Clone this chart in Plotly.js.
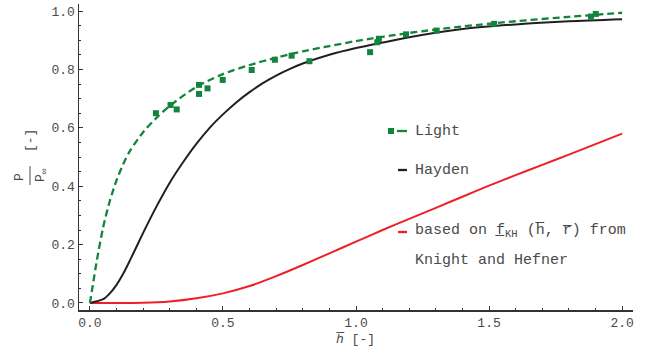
<!DOCTYPE html>
<html>
<head>
<meta charset="utf-8">
<script src="https://cdn.plot.ly/plotly-3.0.1.min.js"></script>
<style>html,body{margin:0;padding:0;background:#fff;}#chart{width:651px;height:356px;}</style>
</head>
<body>
<div id="chart"></div>
<script>
// Light: experimental points
const lightX = [0.248, 0.303, 0.326, 0.410, 0.410, 0.442, 0.499, 0.608, 0.695, 0.758, 0.825, 1.053, 1.080, 1.086, 1.188, 1.303, 1.519, 1.883, 1.901];
const lightY = [0.650, 0.678, 0.663, 0.747, 0.716, 0.735, 0.764, 0.798, 0.833, 0.847, 0.828, 0.859, 0.893, 0.905, 0.920, 0.933, 0.956, 0.981, 0.990];
// Light: fitted curve (dashed)
const lightFitX = [0, 0.0125, 0.025, 0.05, 0.075, 0.1, 0.125, 0.15, 0.2, 0.25, 0.3, 0.4, 0.5, 0.6, 0.7, 0.8, 0.9, 1.0, 1.2, 1.4, 1.6, 1.8, 2.0];
const lightFitY = [0, 0.07, 0.14, 0.26, 0.35, 0.42, 0.475, 0.52, 0.585, 0.634, 0.675, 0.74, 0.784, 0.815, 0.84, 0.862, 0.88, 0.897, 0.925, 0.947, 0.965, 0.98, 0.994];
// Hayden
const haydenX = [0, 0.05, 0.075, 0.1, 0.125, 0.15, 0.2, 0.25, 0.3, 0.35, 0.4, 0.45, 0.5, 0.55, 0.6, 0.65, 0.7, 0.75, 0.8, 0.9, 1.0, 1.1, 1.2, 1.4, 1.6, 1.8, 2.0];
const haydenY = [0, 0.013, 0.033, 0.062, 0.1, 0.145, 0.24, 0.33, 0.412, 0.482, 0.545, 0.6, 0.646, 0.687, 0.722, 0.753, 0.779, 0.801, 0.82, 0.85, 0.873, 0.892, 0.91, 0.938, 0.954, 0.965, 0.972];
// Knight and Hefner
const khX = [0, 0.2, 0.3, 0.4, 0.5, 0.6, 0.7, 0.8, 0.9, 1.0, 1.1, 1.2, 1.3, 1.4, 1.5, 1.6, 1.7, 1.8, 1.9, 2.0];
const khY = [0, 0.0005, 0.005, 0.016, 0.033, 0.058, 0.092, 0.13, 0.17, 0.21, 0.25, 0.288, 0.326, 0.364, 0.402, 0.438, 0.473, 0.508, 0.544, 0.58];
// Tick labels
const xTickVals = [0, 0.5, 1.0, 1.5, 2.0];
const xTickText = ['0.0', '0.5', '1.0', '1.5', '2.0'];
const yTickVals = [0, 0.2, 0.4, 0.6, 0.8, 1.0];
const yTickText = ['0.0', '0.2', '0.4', '0.6', '0.8', '1.0'];

const GREEN = '#12843c';
const BLACK = '#231f20';
const RED = '#ec2027';
const TXT = '#4a4a4a';
const MONO = 'Liberation Mono, DejaVu Sans Mono, monospace';

// pixel -> paper helpers (plot area: x 79..633, y 4..310)
const L = 79, R = 633, T = 4, B = 310;
const px = v => (v - L) / (R - L);
const py = v => (B - v) / (B - T);

const traces = [
  {x: khX, y: khY, mode: 'lines', line: {color: RED, width: 2, shape: 'spline', smoothing: 0.8}, hoverinfo: 'skip'},
  {x: haydenX, y: haydenY, mode: 'lines', line: {color: BLACK, width: 2, shape: 'spline', smoothing: 0.8}, hoverinfo: 'skip'},
  {x: lightFitX, y: lightFitY, mode: 'lines', line: {color: GREEN, width: 2.3, dash: '7px,4px', shape: 'spline', smoothing: 0.8}, hoverinfo: 'skip'},
  {x: lightX, y: lightY, mode: 'markers', marker: {symbol: 'square', size: 6, color: GREEN}, hoverinfo: 'skip'}
];

const ann = (x, y, text, opts) => Object.assign({xref: 'paper', yref: 'paper', x: px(x), y: py(y), text: text, showarrow: false,
  xanchor: 'left', yanchor: 'middle', font: {family: MONO, size: 15, color: TXT}}, opts || {});

const annotations = [
  ann(413, 131, 'Light'),
  ann(413, 170, 'Hayden'),
  ann(413, 231, 'based on f\u0332<sub>KH</sub> (h\u0305, r\u0305) from'),
  ann(413, 260, 'Knight and Hefner'),
  // x title
  ann(355, 339, '<i>h\u0305</i> [-]', {xanchor: 'center', font: {family: MONO, size: 13, color: TXT}}),
  // y title (rotated fraction)
  ann(19, 177, 'P', {xanchor: 'center', textangle: -90, font: {family: MONO, size: 13, color: TXT}}),
  ann(41, 175, 'P<sub>\u221e</sub>', {xanchor: 'center', textangle: -90, font: {family: MONO, size: 13, color: TXT}}),
  ann(30, 141, '[-]', {xanchor: 'center', textangle: -90, font: {family: MONO, size: 13, color: TXT}})
];

const shapes = [
  // legend symbols
  {type: 'rect', xref: 'paper', yref: 'paper', x0: px(388), x1: px(394), y0: py(134), y1: py(128), fillcolor: GREEN, line: {width: 0}},
  {type: 'line', xref: 'paper', yref: 'paper', x0: px(397), x1: px(407), y0: py(131), y1: py(131), line: {color: GREEN, width: 2.3}},
  {type: 'line', xref: 'paper', yref: 'paper', x0: px(398), x1: px(407), y0: py(170), y1: py(170), line: {color: BLACK, width: 2.3}},
  {type: 'line', xref: 'paper', yref: 'paper', x0: px(398), x1: px(407), y0: py(232), y1: py(232), line: {color: RED, width: 2.3}},
  // fraction bar of y title
  {type: 'line', xref: 'paper', yref: 'paper', x0: px(30), x1: px(30), y0: py(185), y1: py(166), line: {color: TXT, width: 1}}
];

const layout = {
  width: 651, height: 356,
  margin: {l: L, r: 651 - R, t: T, b: 356 - B, pad: 0},
  paper_bgcolor: '#fff', plot_bgcolor: '#fff',
  showlegend: false,
  xaxis: {
    range: [-0.041, 2.041], showgrid: false, zeroline: false,
    showline: true, linecolor: '#333', linewidth: 1.5,
    ticks: 'inside', ticklen: 4, tickwidth: 1, tickcolor: '#333',
    tickvals: xTickVals, ticktext: xTickText,
    minor: {dtick: 0.1, tick0: 0, ticks: 'inside', ticklen: 2, tickwidth: 1, tickcolor: '#333'},
    tickfont: {family: MONO, size: 13, color: TXT}
  },
  yaxis: {
    range: [-0.024, 1.024], showgrid: false, zeroline: false,
    showline: true, linecolor: '#333', linewidth: 1.5,
    ticks: 'inside', ticklen: 4, tickwidth: 1, tickcolor: '#333',
    tickvals: yTickVals, ticktext: yTickText,
    minor: {dtick: 0.05, tick0: 0, ticks: 'inside', ticklen: 2, tickwidth: 1, tickcolor: '#333'},
    tickfont: {family: MONO, size: 13, color: TXT}
  },
  annotations: annotations,
  shapes: shapes
};

Plotly.newPlot('chart', traces, layout, {displayModeBar: false, staticPlot: true});
</script>
</body>
</html>
